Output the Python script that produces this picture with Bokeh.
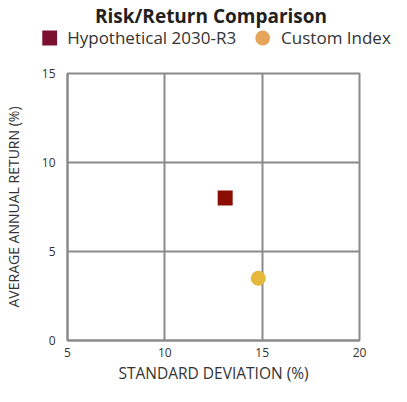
from bokeh.plotting import figure
from bokeh.layouts import column, row
from bokeh.models import Legend, LegendItem, FixedTicker, Range1d
from bokeh.embed import file_html
from bokeh.resources import INLINE

series_names = ["Hypothetical 2030-R3", "Custom Index"]
std_dev = [13.1, 14.8]
avg_return = [8.0, 3.5]
x_ticks = [5, 10, 15, 20]
y_ticks = [0, 5, 10, 15]

FONT = "Open Sans"
NAN = float("nan")

# ---------- header: title + legend ----------
head = figure(width=391, height=56, output_backend="svg", toolbar_location=None,
              x_range=Range1d(0, 1), y_range=Range1d(0, 1),
              x_axis_type=None, y_axis_type=None,
              min_border_left=30, min_border_right=0, min_border_top=0, min_border_bottom=0)
head.outline_line_color = None
head.title.text = "Risk/Return Comparison"
head.title.text_font = FONT
head.title.text_font_style = "bold"
head.title.text_font_size = "19px"
head.title.text_color = "#231f20"
head.title.align = "center"
head.title.standoff = 0

r1 = head.scatter([NAN], [NAN], marker="square", size=15, fill_color="#7b1030", line_color=None)
r2 = head.scatter([NAN], [NAN], marker="circle", size=15, fill_color="#e6a45a", line_color=None)
legend = Legend(items=[LegendItem(label=series_names[0], renderers=[r1]),
                       LegendItem(label=series_names[1], renderers=[r2])],
                orientation="horizontal", location="bottom_center",
                label_text_font=FONT, label_text_font_size="17px",
                label_text_color="#333333", border_line_color=None,
                background_fill_alpha=0, spacing=8, padding=0, margin=0,
                glyph_width=37, glyph_height=37, label_standoff=-5)
head.add_layout(legend, "center")

# ---------- main scatter ----------
p = figure(width=391, height=330, output_backend="svg", toolbar_location=None, title=None,
           x_range=Range1d(5, 20), y_range=Range1d(0, 15),
           min_border_left=58, min_border_right=32, min_border_bottom=39, min_border_top=17)

grid_color = "#8a8a8c"
p.outline_line_color = grid_color
p.outline_line_width = 2
p.outline_line_alpha = 1
for g in (p.xgrid, p.ygrid):
    g.grid_line_color = grid_color
    g.grid_line_width = 2
    g.grid_line_alpha = 1
p.xgrid.ticker = FixedTicker(ticks=x_ticks)
p.ygrid.ticker = FixedTicker(ticks=y_ticks)

for ax in (p.xaxis[0], p.yaxis[0]):
    ax.axis_line_color = grid_color
    ax.axis_line_width = 2
    ax.major_tick_line_color = None
    ax.minor_tick_line_color = None
    ax.major_label_text_font = FONT
    ax.major_label_text_font_size = "12px"
    ax.major_label_text_color = "#333333"
    ax.axis_label_text_font = FONT
    ax.axis_label_text_font_style = "normal"
    ax.axis_label_text_color = "#333333"
p.xaxis.ticker = FixedTicker(ticks=x_ticks)
p.yaxis.ticker = FixedTicker(ticks=y_ticks)
p.xaxis.axis_label = "STANDARD DEVIATION (%)"
p.yaxis.axis_label = "AVERAGE ANNUAL RETURN (%)"
p.xaxis.axis_label_text_font_size = "15.5px"
p.yaxis.axis_label_text_font_size = "14px"
p.xaxis.major_label_standoff = 1
p.yaxis.major_label_standoff = 6
p.xaxis.axis_label_standoff = 2
p.yaxis.axis_label_standoff = 16

p.scatter([std_dev[0]], [avg_return[0]], marker="square", size=15,
          fill_color="#8b0e04", line_color=None)
p.scatter([std_dev[1]], [avg_return[1]], marker="circle", size=15,
          fill_color="#e5b73b", line_color=None)

layout = column(row(head, spacing=0), row(p, spacing=0), spacing=0)
open("out.html", "w").write(file_html(layout, INLINE))
